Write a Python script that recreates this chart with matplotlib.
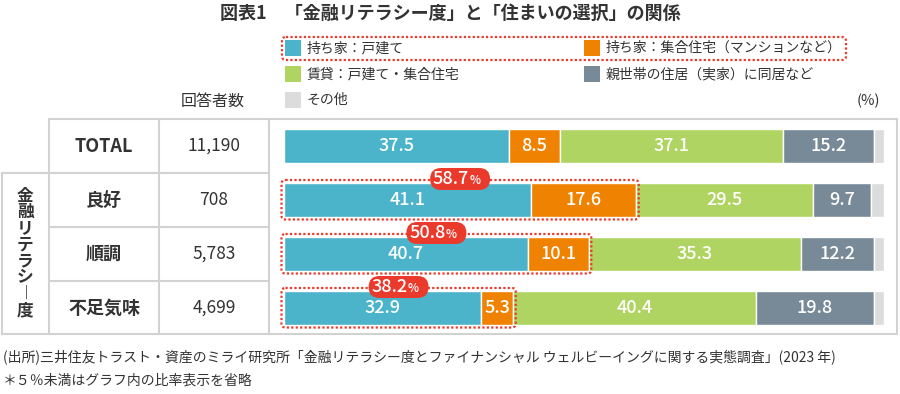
import matplotlib
matplotlib.use("Agg")
import matplotlib.pyplot as plt
from matplotlib.patches import FancyBboxPatch, Rectangle
import numpy as np

plt.rcParams['font.family'] = ['Noto Sans CJK JP', 'DejaVu Sans']

# ---- data ----
categories = ['TOTAL', '良好', '順調', '不足気味']
counts = ['11,190', '708', '5,783', '4,699']
series_names = ['持ち家：戸建て', '持ち家：集合住宅（マンションなど）',
                '賃貸：戸建て・集合住宅', '親世帯の住居（実家）に同居など', 'その他']
own_house = [37.5, 41.1, 40.7, 32.9]
own_condo = [8.5, 17.6, 10.1, 5.3]
rent = [37.1, 29.5, 35.3, 40.4]
parents = [15.2, 9.7, 12.2, 19.8]
other = [1.7, 2.1, 1.7, 1.6]
highlight_rows = [1, 2, 3]
group_label = '金融リテラシー度'
title = '図表1　「金融リテラシー度」と「住まいの選択」の関係'
source = '(出所)三井住友トラスト・資産のミライ研究所「金融リテラシー度とファイナンシャル ウェルビーイングに関する実態調査」(2023 年)'
note = '＊５％未満はグラフ内の比率表示を省略'

colors = ['#4BB4CA', '#EF8200', '#AFD462', '#788A97', '#DCDCDC']
red = '#E93A2C'
txt = '#333333'
grid = '#D2D2D2'

W, H = 900, 394
fig = plt.figure(figsize=(W / 100, H / 100), dpi=100)

bg = fig.add_axes([0, 0, 1, 1], zorder=0)
bg.set_xlim(0, W); bg.set_ylim(H, 0); bg.axis('off')

# bar axes: x 284..884 px, y 119..335 px
ax = fig.add_axes([284 / W, 1 - 335 / H, 600 / W, 216 / H], zorder=1)
ax.patch.set_alpha(0)
ax.set_xlim(0, 100)
ax.set_ylim(3.5, -0.5)
ax.axis('off')

fg = fig.add_axes([0, 0, 1, 1], zorder=3)
fg.set_xlim(0, W); fg.set_ylim(H, 0); fg.axis('off'); fg.patch.set_alpha(0)

# ---- title ----
bg.text(450, 13, title, ha='center', va='center', fontsize=13, fontweight='bold', color=txt)

# ---- legend ----
leg_pos = [(285, 48), (584, 48), (285, 74), (584, 74), (285, 100)]
for (x, y), name, c in zip(leg_pos, series_names, colors):
    bg.add_patch(Rectangle((x, y - 8), 16, 16, color=c, lw=0))
    bg.text(x + 22, y, name, ha='left', va='center', fontsize=10, color=txt)
fg.add_patch(FancyBboxPatch((282, 37), 564, 23, boxstyle='round,pad=0,rounding_size=4',
                            fill=False, ec=red, lw=1.6, ls=(0, (1, 1))))

bg.text(213, 101, '回答者数', ha='center', va='center', fontsize=11.5, color=txt)
bg.text(868, 101, '(%)', ha='center', va='center', fontsize=10.5, color=txt)

# ---- table lines ----
lk = dict(color=grid, lw=1.5, solid_capstyle='projecting')
top, rows_y, bottom = 119, [173, 227, 281], 334
bg.plot([49, 897], [top, top], **lk)
bg.plot([2, 269], [rows_y[0], rows_y[0]], **lk)
for yy in rows_y[1:]:
    bg.plot([49, 269], [yy, yy], **lk)
bg.plot([2, 897], [bottom, bottom], **lk)
bg.plot([2, 2], [rows_y[0], bottom], **lk)
for xx in [49, 159, 269, 897]:
    bg.plot([xx, xx], [top, bottom], **lk)

# row labels & counts
for i, (cat, cnt) in enumerate(zip(categories, counts)):
    yc = top + 27 + i * 54
    bg.text(104, yc, cat, ha='center', va='center', fontsize=13, fontweight='bold', color=txt)
    bg.text(214, yc, cnt, ha='center', va='center', fontsize=12.5, color=txt)

# vertical group label
chars = [('︱' if ch == 'ー' else ch) for ch in group_label]
for k, ch in enumerate(chars):
    bg.text(25, 196 + k * 16.3, ch, ha='center', va='center', fontsize=12,
            fontweight='bold', color=txt)

# ---- bars ----
series = [own_house, own_condo, rent, parents, other]
y = np.arange(len(categories))
left = np.zeros(len(categories))
for vals, c in zip(series, colors):
    vals = np.array(vals)
    ax.barh(y, vals, left=left, height=0.63, color=c, edgecolor='white', linewidth=1)
    for yi, (l, v) in enumerate(zip(left, vals)):
        if v >= 5 and c != colors[4]:
            ax.text(l + v / 2, yi, f'{v:.1f}', ha='center', va='center',
                    fontsize=13, color='white', fontweight='medium')
    left = left + vals

# ---- highlight boxes ----
to_px = lambda pt: fg.transData.inverted().transform(ax.transData.transform(pt))
for r in highlight_rows:
    total = own_house[r] + own_condo[r]
    x0, y0 = to_px((0, r - 0.315))
    x1, y1 = to_px((total, r + 0.315))
    x0 -= 2.5; x1 += 2.5; y0 -= 3; y1 += 2.5
    fg.add_patch(FancyBboxPatch((x0, y0), x1 - x0, y1 - y0,
                                boxstyle='round,pad=0,rounding_size=4',
                                fill=False, ec=red, lw=1.6, ls=(0, (1, 1))))
    cx = (x0 + x1) / 2
    cy = y0 - 1
    fg.add_patch(FancyBboxPatch((cx - 30, cy - 11), 60, 22,
                                boxstyle='round,pad=0,rounding_size=11',
                                fc=red, ec='none'))
    fg.text(cx + 9, cy, f'{total:.1f}', ha='right', va='center', fontsize=13,
            color='white', fontweight='medium')
    fg.text(cx + 9.5, cy + 1.5, '%', ha='left', va='center', fontsize=8.5,
            color='white', fontweight='medium')

# ---- footer ----
bg.text(3, 357, source, ha='left', va='center', fontsize=10, color=txt)
bg.text(3, 381, note, ha='left', va='center', fontsize=10, color=txt)

fig.savefig('out.png', dpi=100)
